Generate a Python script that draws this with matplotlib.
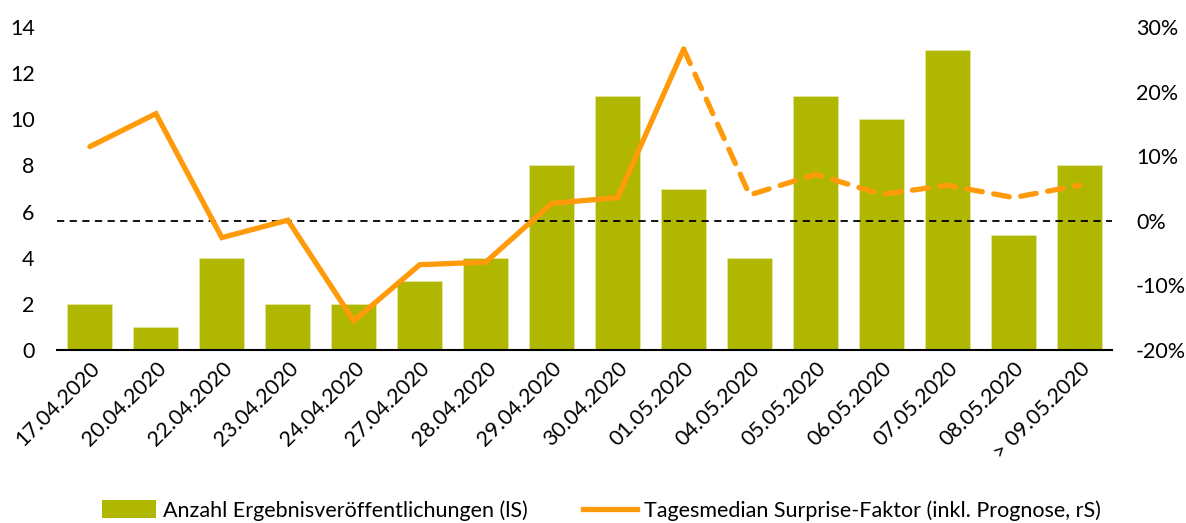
import matplotlib
matplotlib.use('Agg')
import matplotlib.pyplot as plt
from matplotlib.lines import Line2D
from matplotlib.patches import Patch

plt.rcParams['font.family'] = ['Lato', 'DejaVu Sans']

dates = ['17.04.2020', '20.04.2020', '22.04.2020', '23.04.2020', '24.04.2020',
         '27.04.2020', '28.04.2020', '29.04.2020', '30.04.2020', '01.05.2020',
         '04.05.2020', '05.05.2020', '06.05.2020', '07.05.2020', '08.05.2020',
         '> 09.05.2020']
anzahl = [2, 1, 4, 2, 2, 3, 4, 8, 11, 7, 4, 11, 10, 13, 5, 8]
# surprise factor in %, first 10 actual, rest incl. forecast (dashed)
surprise = [11.5, 16.6, -2.6, 0.1, -15.5, -6.8, -6.4, 2.7, 3.6, 26.6,
            4.0, 7.2, 4.1, 5.5, 3.6, 5.5]
n_actual = 10

bar_color = '#AFB700'
line_color = '#FF9A0A'
fs = 15.5

fig = plt.figure(figsize=(11.86, 5.23), dpi=100)
ax = fig.add_axes([0.048, 0.331, 0.890, 0.617])
x = list(range(len(dates)))
ax.bar(x, anzahl, width=0.68, color=bar_color, edgecolor='#E4E8A0', linewidth=0.6, zorder=2)
ax.set_xlim(-0.5, len(dates) - 0.5)
ax.set_ylim(0, 14)
ax.set_yticks(range(0, 15, 2))
ax.set_xticks(x)
ax.set_xticklabels(dates, rotation=45, ha='right', rotation_mode='anchor', fontsize=fs)
ax.tick_params(axis='y', length=0, labelsize=fs, pad=16)
ax.tick_params(axis='x', length=0, pad=6)
for s in ['left', 'right', 'top']:
    ax.spines[s].set_visible(False)
ax.spines['bottom'].set_color('black')
ax.spines['bottom'].set_linewidth(1.5)
ax.spines['bottom'].set_zorder(5)

ax2 = ax.twinx()
ax2.set_ylim(-20, 30)
ax2.set_yticks(range(-20, 31, 10))
ax2.set_yticklabels([f'{v}%' for v in range(-20, 31, 10)])
ax2.tick_params(axis='y', length=0, labelsize=fs, pad=17)
for s in ['left', 'right', 'top', 'bottom']:
    ax2.spines[s].set_visible(False)
ax2.axhline(0, color='black', linestyle=(0, (4, 3)), linewidth=1.3, zorder=3)
ax2.plot(x[:n_actual], surprise[:n_actual], color=line_color, linewidth=3.8,
         solid_capstyle='round', solid_joinstyle='miter', zorder=4)
ax2.plot(x[n_actual - 1:], surprise[n_actual - 1:], color=line_color, linewidth=3.8,
         linestyle=(0, (3, 2.2)), dash_capstyle='round', zorder=4)

handles = [Patch(facecolor=bar_color, edgecolor='none'),
           Line2D([0], [0], color=line_color, linewidth=3.8)]
labels = ['Anzahl Ergebnisveröffentlichungen (lS)',
          'Tagesmedian Surprise-Faktor (inkl. Prognose, rS)']
fig.legend(handles, labels, loc='center', bbox_to_anchor=(0.507, 0.024), ncol=2,
           frameon=False, fontsize=fs, handlelength=2.5, handletextpad=0.3,
           columnspacing=2.6, handleheight=0.9)

fig.savefig('out.png', dpi=100)
